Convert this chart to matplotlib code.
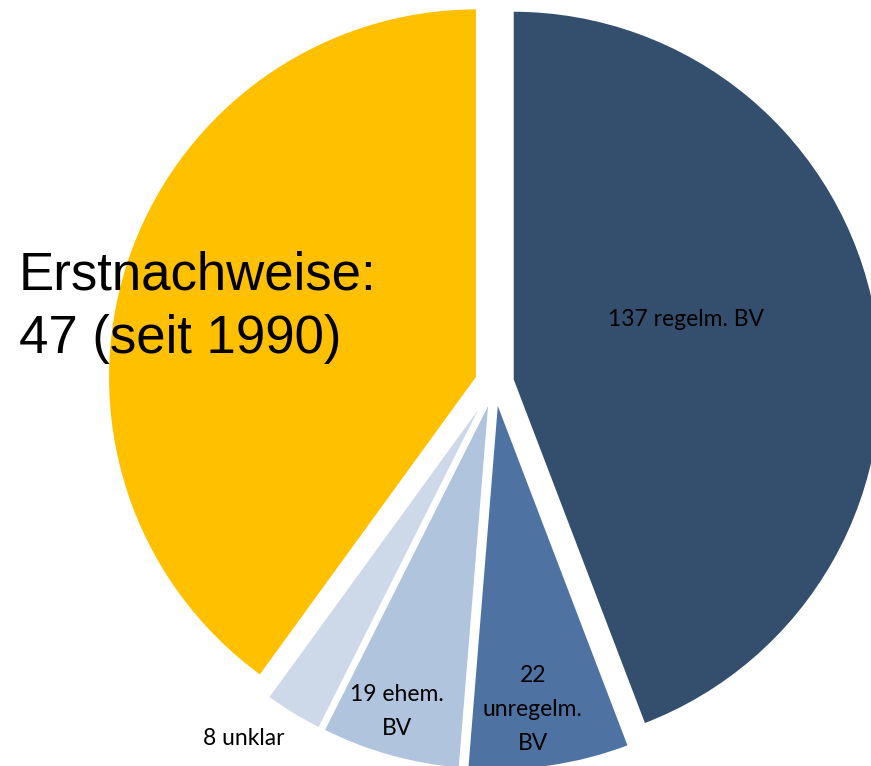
import matplotlib
matplotlib.use('Agg')
import matplotlib.pyplot as plt

# data (clockwise from 12 o'clock)
labels = ['137 regelm. BV', '22\nunregelm.\nBV', '19 ehem.\nBV', '8 unklar', '']
values = [137, 22, 19, 8, 124]
colors = ['#344F6E', '#4E73A3', '#B0C4DE', '#CDD8E8', '#FFC000']
note = 'Erstnachweise:\n47 (seit 1990)'

fig = plt.figure(figsize=(8.71, 7.66), dpi=100)
ax = fig.add_axes([0, 0, 1, 1])

wedges, texts = ax.pie(values, colors=colors, startangle=90, counterclock=False,
                       explode=[0.05] * len(values), radius=1.0,
                       wedgeprops=dict(linewidth=1.5, edgecolor='white'))

lab_font = dict(family=['Lato', 'DejaVu Sans'], fontsize=16.5, color='black',
                ha='center', va='center', linespacing=1.75)
ax.text(0.519, 0.171, labels[0], **lab_font)
ax.text(0.104, -0.885, labels[1], **lab_font)
ax.text(-0.264, -0.89, labels[2], **lab_font)
ax.text(-0.679, -0.963, labels[3], **lab_font)

ax.text(-1.29, 0.205, note, family=['Liberation Sans', 'DejaVu Sans'],
        fontsize=38, ha='left', va='center', linespacing=1.36)

ax.set_xlim(-1.340, 1.020)
ax.set_ylim(-1.038, 1.038)
ax.set_aspect('equal')
ax.axis('off')

fig.savefig('out.png', dpi=100)
